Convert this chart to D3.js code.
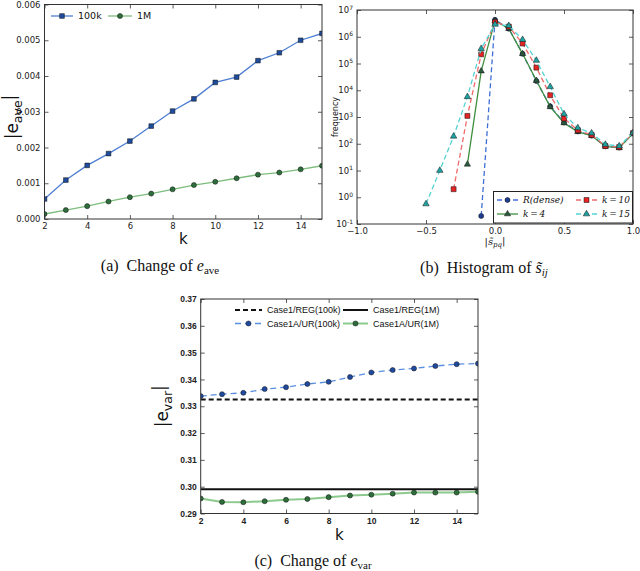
<!doctype html>
<html>
<head>
<meta charset="utf-8">
<title>Change of e_ave / histogram / e_var</title>
<script src="https://d3js.org/d3.v7.min.js"></script>
<style>
  body { margin: 0; background: #fff; }
  svg { display: block; }
  .tick line { stroke: #333; stroke-width: 0.8; }
  .tick text { fill: #222; }
</style>
</head>
<body>
<script>
// ---- (a) change of e_ave ----
const kValues  = [2, 3, 4, 5, 6, 7, 8, 9, 10, 11, 12, 13, 14, 15];
const ave100k  = [0.00056, 0.00109, 0.00150, 0.00183, 0.00218, 0.00260, 0.00302, 0.00336, 0.00382, 0.00397, 0.00443, 0.00465, 0.00500, 0.00519];
const ave1M    = [0.00014, 0.00025, 0.00036, 0.00049, 0.00061, 0.00071, 0.00083, 0.00095, 0.00104, 0.00114, 0.00124, 0.00130, 0.00139, 0.00149];
const kTicks   = [2, 4, 6, 8, 10, 12, 14];
const aveTicks = [0, 0.001, 0.002, 0.003, 0.004, 0.005, 0.006];

// ---- (b) histogram ----
const histX     = [-0.5, -0.4, -0.3, -0.2, -0.1, 0.0, 0.1, 0.2, 0.3, 0.4, 0.5, 0.6, 0.7, 0.8, 0.9, 1.0];
const histDense = [null, null, null, null, 0.2, 4.3e6, 2.0e6, 2.3e5, 2.2e4, 2.5e3, 620, 290, 200, 80, 72, 240];
const histK4    = [null, null, null, 17, 5.2e4, 4.0e6, 2.0e6, 2.3e5, 2.3e4, 2.4e3, 600, 280, 200, 80, 70, 240];
const histK10   = [null, null, 2, 1.1e3, 2.2e5, 3.5e6, 2.4e6, 5.6e5, 7.0e4, 6.5e3, 880, 320, 215, 82, 75, 250];
const histK15   = [0.56, 10, 190, 5.7e3, 3.6e5, 2.9e6, 2.6e6, 7.8e5, 1.3e5, 1.35e4, 1.3e3, 390, 250, 94, 82, 260];
const histTicksX = [-1, -0.5, 0, 0.5, 1];
const histTicksY = [0.1, 1, 10, 100, 1e3, 1e4, 1e5, 1e6, 1e7];

// ---- (c) change of e_var ----
const var100k  = [0.3338, 0.3345, 0.3350, 0.3364, 0.3371, 0.3383, 0.3391, 0.3409, 0.3426, 0.3435, 0.3441, 0.3450, 0.3457, 0.3459];
const var1M    = [0.2956, 0.2943, 0.2942, 0.2946, 0.2951, 0.2954, 0.2961, 0.2967, 0.2970, 0.2974, 0.2978, 0.2978, 0.2978, 0.2981];
const reg100k  = 0.3325;
const reg1M    = 0.2990;
const varTicks = [0.29, 0.30, 0.31, 0.32, 0.33, 0.34, 0.35, 0.36, 0.37];

const W = 640, H = 571;
const svg = d3.select("body").append("svg").attr("width", W).attr("height", H);
svg.append("rect").attr("width", W).attr("height", H).attr("fill", "#fff");

let clipN = 0;
function panel(box) {
  const id = "clip" + (clipN++);
  svg.append("clipPath").attr("id", id).append("rect")
    .attr("x", box.l).attr("y", box.t).attr("width", box.r - box.l).attr("height", box.b - box.t);
  const g = svg.append("g");
  const plot = g.append("g").attr("clip-path", `url(#${id})`);
  return { g, plot };
}

function drawAxes(g, x, y, box, xt, yt, xf, yf, font, fsize) {
  const put = (gen, tr) => g.append("g").attr("transform", tr).call(gen)
    .attr("font-family", font).attr("font-size", fsize);
  put(d3.axisBottom(x).tickValues(xt).tickSize(-4).tickPadding(4).tickFormat(xf), `translate(0,${box.b})`);
  put(d3.axisTop(x).tickValues(xt).tickSize(-4).tickFormat(""), `translate(0,${box.t})`);
  const left = put(d3.axisLeft(y).tickValues(yt).tickSize(-4).tickPadding(4).tickFormat(yf), `translate(${box.l},0)`);
  put(d3.axisRight(y).tickValues(yt).tickSize(-4).tickFormat(""), `translate(${box.r},0)`);
  g.selectAll(".domain").remove();
  g.append("rect").attr("x", box.l).attr("y", box.t)
    .attr("width", box.r - box.l).attr("height", box.b - box.t)
    .attr("fill", "none").attr("stroke", "#333").attr("stroke-width", 1);
  return left;
}

function series(plot, xs, ys, x, y, st) {
  const pts = xs.map((v, i) => [v, ys[i]]).filter(p => p[1] != null);
  plot.append("path").datum(pts)
    .attr("d", d3.line().x(p => x(p[0])).y(p => y(p[1])))
    .attr("fill", "none").attr("stroke", st.line).attr("stroke-width", st.lw || 1.3)
    .attr("stroke-dasharray", st.dash || null);
  if (st.sym) {
    plot.selectAll(null).data(pts).join("path")
      .attr("transform", p => `translate(${x(p[0])},${y(p[1])})`)
      .attr("d", d3.symbol().type(st.sym).size(st.size || 24))
      .attr("fill", st.fill).attr("stroke", "#111").attr("stroke-width", 0.5);
  }
}

function legendItem(g, x0, x1, yy, st, label, font, fsize) {
  g.append("line").attr("x1", x0).attr("x2", x1).attr("y1", yy).attr("y2", yy)
    .attr("stroke", st.line).attr("stroke-width", st.lw || 1.3).attr("stroke-dasharray", st.dash || null);
  if (st.sym) {
    g.append("path").attr("transform", `translate(${(x0 + x1) / 2},${yy})`)
      .attr("d", d3.symbol().type(st.sym).size(st.size || 24))
      .attr("fill", st.fill).attr("stroke", "#111").attr("stroke-width", 0.5);
  }
  return g.append("text").attr("x", x1 + 5).attr("y", yy).attr("dy", "0.35em")
    .attr("font-family", font).attr("font-size", fsize).attr("fill", "#111").text(label);
}

function subLabel(t, main, sub, italicMain, subItalic, subSize) {
  t.append("tspan").attr("font-style", italicMain ? "italic" : null).text(main);
  t.append("tspan").attr("dy", "0.3em").attr("font-size", subSize)
    .attr("font-style", subItalic ? "italic" : null).text(sub);
}

function absLabel(g, tx, ty, sub) {
  const yl = g.append("text").attr("transform", `translate(${tx},${ty}) rotate(-90)`)
    .attr("text-anchor", "middle").attr("font-family", "DejaVu Sans").attr("font-size", 17).attr("fill", "#111");
  yl.append("tspan").text("|e");
  yl.append("tspan").attr("dy", "0.3em").attr("font-size", 12.5).text(sub);
  yl.append("tspan").attr("dy", "-0.4em").text("|");
}

// ================= (a) =================
{
  const box = { l: 44.5, r: 322, t: 4.5, b: 219 };
  const x = d3.scaleLinear().domain([2, 15]).range([box.l, box.r]);
  const y = d3.scaleLinear().domain([0, 0.006]).range([box.b, box.t]);
  const { g, plot } = panel(box);
  const s100k = { line: "#4f7fd2", lw: 1.3, sym: d3.symbolSquare, size: 22, fill: "#1f4c9c" };
  const s1M = { line: "#7dbd7d", lw: 1.3, sym: d3.symbolCircle, size: 20, fill: "#2e6e3c" };
  series(plot, kValues, ave100k, x, y, s100k);
  series(plot, kValues, ave1M, x, y, s1M);
  drawAxes(g, x, y, box, kTicks, aveTicks, d3.format("d"), d3.format(".3f"), "DejaVu Sans", 8.5);
  legendItem(g, 51, 73, 16, s100k, "100k", "DejaVu Sans", 9.5);
  legendItem(g, 108, 132, 16, s1M, "1M", "DejaVu Sans", 9.5);

  absLabel(g, 18, 117, "ave");
  g.append("text").attr("x", (box.l + box.r) / 2).attr("y", 244).attr("text-anchor", "middle")
    .attr("font-family", "DejaVu Sans").attr("font-size", 15).attr("fill", "#111").text("k");

  const cap = g.append("text").attr("x", 160).attr("y", 271).attr("text-anchor", "middle")
    .attr("font-family", "Liberation Serif").attr("font-size", 16).attr("fill", "#111");
  cap.append("tspan").text("(a)\u2002Change of ");
  subLabel(cap, "e", "ave", true, false, 11);
}

// ================= (b) =================
{
  const box = { l: 357, r: 633, t: 10, b: 224 };
  const x = d3.scaleLinear().domain([-1, 1]).range([box.l, box.r]);
  const y = d3.scaleLog().domain([0.1, 1e7]).range([box.b, box.t]);
  const { g, plot } = panel(box);
  const sDense = { line: "#3f6fd6", lw: 1.3, dash: "5,3", sym: d3.symbolCircle, size: 20, fill: "#1d3c92" };
  const sK4 = { line: "#3f8f3f", lw: 1.3, sym: d3.symbolTriangle, size: 17, fill: "#2c5a3c" };
  const sK10 = { line: "#f06a6a", lw: 1.3, dash: "5,3", sym: d3.symbolSquare, size: 25, fill: "#e42424" };
  const sK15 = { line: "#55d2d2", lw: 1.3, dash: "5,3", sym: d3.symbolTriangle, size: 18, fill: "#1fa3a3" };
  series(plot, histX, histDense, x, y, sDense);
  series(plot, histX, histK4, x, y, sK4);
  series(plot, histX, histK10, x, y, sK10);
  series(plot, histX, histK15, x, y, sK15);
  const left = drawAxes(g, x, y, box, histTicksX, histTicksY,
    d => d3.format(".1f")(d).replace("-", "\u2212"), () => "", "DejaVu Sans", 8.5);
  left.selectAll(".tick text").each(function (d) {
    const t = d3.select(this);
    t.append("tspan").text("10");
    t.append("tspan").attr("dy", "-0.6em").attr("font-size", 6).text(Math.round(Math.log10(d)));
  });

  // legend box
  g.append("rect").attr("x", 493.5).attr("y", 191.5).attr("width", 139).attr("height", 31.5)
    .attr("fill", "#fff").attr("stroke", "#222").attr("stroke-width", 1);
  const lf = "DejaVu Serif";
  legendItem(g, 497, 518, 200, sDense, "R(dense)", lf, 9).attr("font-style", "italic");
  legendItem(g, 497, 518, 214, sK4, "k\u2009=\u20094", lf, 9).attr("font-style", "italic");
  legendItem(g, 576, 597, 200, sK10, "k\u2009=\u200910", lf, 9).attr("font-style", "italic");
  legendItem(g, 576, 597, 214, sK15, "k\u2009=\u200915", lf, 9).attr("font-style", "italic");

  g.append("text").attr("transform", `translate(338,${(box.t + box.b) / 2}) rotate(-90)`)
    .attr("text-anchor", "middle").attr("font-family", "DejaVu Sans").attr("font-size", 8)
    .attr("fill", "#111").text("frequency");
  const xl = g.append("text").attr("x", x(0)).attr("y", 245).attr("text-anchor", "middle")
    .attr("font-family", "DejaVu Serif").attr("font-size", 10).attr("fill", "#111");
  xl.append("tspan").text("|");
  subLabel(xl, "s\u0303", "pq", true, true, 7);
  xl.append("tspan").attr("dy", "-0.3em").text("|");

  const cap = g.append("text").attr("x", 484).attr("y", 273).attr("text-anchor", "middle")
    .attr("font-family", "Liberation Serif").attr("font-size", 16).attr("fill", "#111");
  cap.append("tspan").text("(b)\u2002Histogram of ");
  subLabel(cap, "s\u0303", "ij", true, true, 11);
}

// ================= (c) =================
{
  const box = { l: 200.7, r: 478, t: 299, b: 513.5 };
  const x = d3.scaleLinear().domain([2, 15]).range([box.l, box.r]);
  const y = d3.scaleLinear().domain([0.29, 0.37]).range([box.b, box.t]);
  const { g, plot } = panel(box);
  const sReg100 = { line: "#111", lw: 2, dash: "5,3" };
  const sReg1M = { line: "#111", lw: 2 };
  const sUr100 = { line: "#5a8ee0", lw: 1.3, dash: "6,4", sym: d3.symbolCircle, size: 20, fill: "#1f4aa0" };
  const sUr1M = { line: "#8cc98c", lw: 2, sym: d3.symbolCircle, size: 20, fill: "#2e6e3a" };
  series(plot, [2, 15], [reg100k, reg100k], x, y, sReg100);
  series(plot, [2, 15], [reg1M, reg1M], x, y, sReg1M);
  series(plot, kValues, var100k, x, y, sUr100);
  series(plot, kValues, var1M, x, y, sUr1M);
  drawAxes(g, x, y, box, kTicks, varTicks, d3.format("d"), d3.format(".2f"), "Liberation Sans", 8.5);
  g.selectAll(".tick text").attr("font-weight", "bold").attr("fill", "#333");

  const lf = "Liberation Sans";
  legendItem(g, 235, 262, 310, sReg100, "Case1/REG(100k)", lf, 9);
  legendItem(g, 343, 368, 310, sReg1M, "Case1/REG(1M)", lf, 9);
  legendItem(g, 235, 262, 323.5, sUr100, "Case1A/UR(100k)", lf, 9);
  legendItem(g, 343, 368, 323.5, sUr1M, "Case1A/UR(1M)", lf, 9);

  absLabel(g, 168, (box.t + box.b) / 2, "var");
  g.append("text").attr("x", (box.l + box.r) / 2).attr("y", 540).attr("text-anchor", "middle")
    .attr("font-family", "DejaVu Sans").attr("font-size", 15).attr("fill", "#111").text("k");

  const cap = g.append("text").attr("x", 313).attr("y", 566).attr("text-anchor", "middle")
    .attr("font-family", "Liberation Serif").attr("font-size", 16).attr("fill", "#111");
  cap.append("tspan").text("(c)\u2002Change of ");
  subLabel(cap, "e", "var", true, false, 11);
}
</script>
</body>
</html>
